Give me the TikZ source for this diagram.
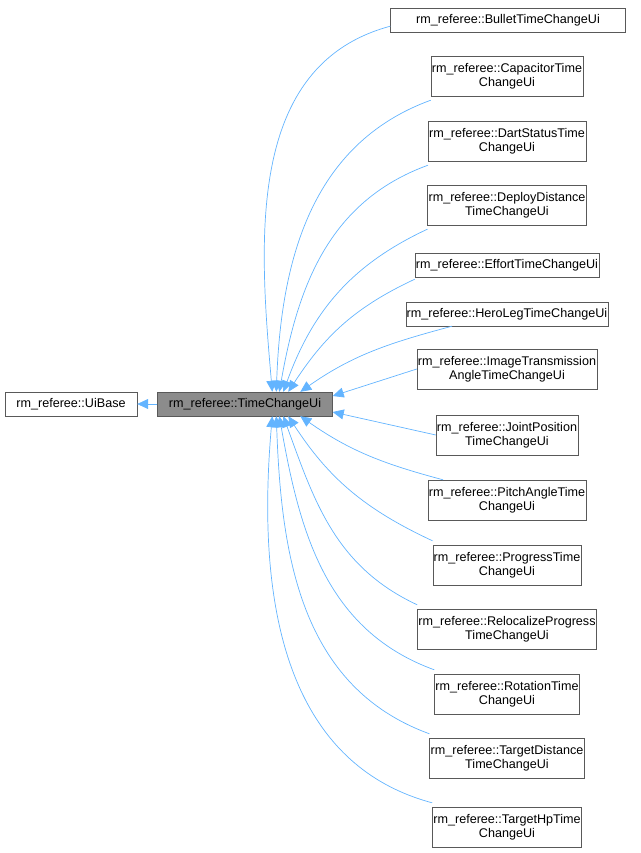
\documentclass[tikz,border=0pt]{standalone}
\usepackage{fontspec}
\setmainfont{Liberation Sans}
\usetikzlibrary{arrows.meta}
\begin{document}
\begin{tikzpicture}[x=1pt,y=-1pt,
  box/.style={draw=black!65,fill=white,align=center,inner sep=1pt,font=\fontsize{12.6}{14}\selectfont,minimum height=24pt},
  box2/.style={box,minimum height=40pt}]
\useasboundingbox (0,0) rectangle (640,853);
\definecolor{ec}{RGB}{99,180,255}
\tikzset{e/.style={draw=ec,-{Triangle[width=10pt,length=11pt]},line width=0.7pt,color=ec}}
\node[box,minimum width=132pt] (ub) at (71,404) {rm\_referee::UiBase};
\node[box,minimum width=175pt,fill=black!45] (tc) at (245,404) {rm\_referee::TimeChangeUi};
\node[box,minimum width=235pt] (n1) at (508,20) {rm\_referee::BulletTimeChangeUi};
\node[box2,minimum width=148pt] (n2) at (507,76) {rm\_referee::CapacitorTime\\ChangeUi};
\node[box2,minimum width=152pt] (n3) at (507,141) {rm\_referee::DartStatusTime\\ChangeUi};
\node[box2,minimum width=152pt] (n4) at (507,205) {rm\_referee::DeployDistance\\TimeChangeUi};
\node[box,minimum width=177pt] (n5) at (507,265) {rm\_referee::EffortTimeChangeUi};
\node[box,minimum width=199pt] (n6) at (507,314) {rm\_referee::HeroLegTimeChangeUi};
\node[box2,minimum width=177pt] (n7) at (507,369) {rm\_referee::ImageTransmission\\AngleTimeChangeUi};
\node[box2,minimum width=137pt] (n8) at (507,435) {rm\_referee::JointPosition\\TimeChangeUi};
\node[box2,minimum width=152pt] (n9) at (507,500) {rm\_referee::PitchAngleTime\\ChangeUi};
\node[box2,minimum width=142pt] (n10) at (507,565) {rm\_referee::ProgressTime\\ChangeUi};
\node[box2,minimum width=177pt] (n11) at (507,629) {rm\_referee::RelocalizeProgress\\TimeChangeUi};
\node[box2,minimum width=140pt] (n12) at (507,694) {rm\_referee::RotationTime\\ChangeUi};
\node[box2,minimum width=152pt] (n13) at (507,758) {rm\_referee::TargetDistance\\TimeChangeUi};
\node[box2,minimum width=144pt] (n14) at (507,827) {rm\_referee::TargetHpTime\\ChangeUi};
\draw[e] (tc) -- (ub);
\draw[e] ([yshift=6pt]n1.south west) to[out=195,in=95] ([xshift=115pt]tc.north west);
\draw[e] ([yshift=-4pt]n2.south west) to[out=200,in=88] ([xshift=119pt]tc.north west);
\draw[e] ([yshift=-4pt]n3.south west) to[out=200,in=80] ([xshift=122pt]tc.north west);
\draw[e] ([yshift=-4pt]n4.south west) to[out=205,in=70] ([xshift=126pt]tc.north west);
\draw[e] ([yshift=-2pt]n5.south west) to[out=205,in=57] ([xshift=131pt]tc.north west);
\draw[e] ([xshift=-55pt]n6.south) to[out=195,in=35] ([xshift=143pt]tc.north west);
\draw[e] (n7.west) -- ([yshift=8pt]tc.east);
\draw[e] (n8.west) -- ([yshift=-8pt]tc.east);
\draw[e] ([xshift=-64pt]n9.north) to[out=165,in=-35] ([xshift=143pt]tc.south west);
\draw[e] ([yshift=4pt]n10.north west) to[out=155,in=-57] ([xshift=131pt]tc.south west);
\draw[e] ([yshift=4pt]n11.north west) to[out=155,in=-70] ([xshift=126pt]tc.south west);
\draw[e] ([yshift=4pt]n12.north west) to[out=160,in=-80] ([xshift=122pt]tc.south west);
\draw[e] ([yshift=4pt]n13.north west) to[out=160,in=-88] ([xshift=119pt]tc.south west);
\draw[e] ([yshift=4pt]n14.north west) to[out=165,in=-95] ([xshift=115pt]tc.south west);
\end{tikzpicture}
\end{document}
